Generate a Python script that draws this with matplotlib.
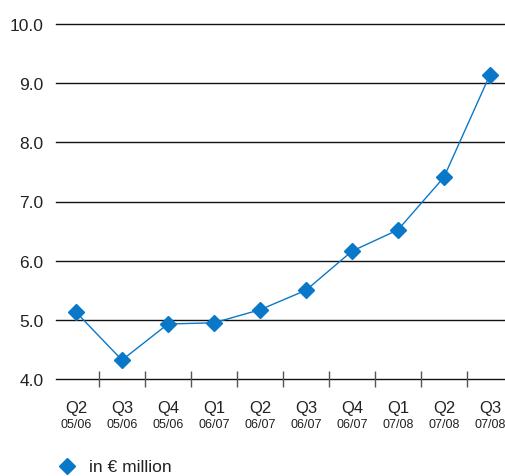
import matplotlib
matplotlib.use("Agg")
import matplotlib.pyplot as plt
from matplotlib.transforms import blended_transform_factory

# quarterly values, in EUR million
quarters = ["Q2", "Q3", "Q4", "Q1", "Q2", "Q3", "Q4", "Q1", "Q2", "Q3"]
years = ["05/06", "05/06", "05/06", "06/07", "06/07", "06/07", "06/07", "07/08", "07/08", "07/08"]
values = [5.13, 4.32, 4.93, 4.95, 5.17, 5.50, 6.16, 6.52, 7.41, 9.14]
y_ticks = [4.0, 5.0, 6.0, 7.0, 8.0, 9.0, 10.0]

blue = "#0a78c8"
plt.rcParams["font.family"] = ["Liberation Sans", "DejaVu Sans"]

fig = plt.figure(figsize=(5.06, 4.77), dpi=100)
ax = fig.add_axes([56 / 506, 1 - 380 / 477, 450 / 506, 355 / 477])

x = list(range(len(values)))
ax.set_xlim(-0.435, 9.35)
ax.set_ylim(4.0, 10.0)

# horizontal rules
for v in y_ticks:
    ax.axhline(v, color="#111111", lw=1.0, zorder=1, clip_on=False)

ax.plot(x, values, color=blue, lw=1.0, marker="D", ms=8, mfc=blue, mec=blue, zorder=3, clip_on=False)

for s in ax.spines.values():
    s.set_visible(False)

ax.set_yticks(y_ticks)
ax.set_yticklabels([f"{v:.1f}" for v in y_ticks], fontsize=12.5, color="#222222")
ax.tick_params(axis="y", length=0, pad=9)

ax.set_xticks([i + 0.5 for i in range(len(values) - 1)])
ax.set_xticklabels([])
ax.tick_params(axis="x", direction="inout", length=11, width=1.0, color="#555555")

trans = blended_transform_factory(ax.transData, ax.transAxes)
for i in x:
    ax.text(i, -0.08, quarters[i], transform=trans, ha="center", va="center", fontsize=12, color="#222222")
    ax.text(i, -0.128, years[i], transform=trans, ha="center", va="center", fontsize=9, color="#222222")

# legend
fig.lines.append(plt.Line2D([67 / 506], [1 - 467 / 477], transform=fig.transFigure, marker="D", ms=8,
                            color=blue, lw=0))
fig.text(89 / 506, 1 - 468 / 477, "in € million", fontsize=12.5, va="center", color="#222222")

fig.savefig("out.png", dpi=100)
